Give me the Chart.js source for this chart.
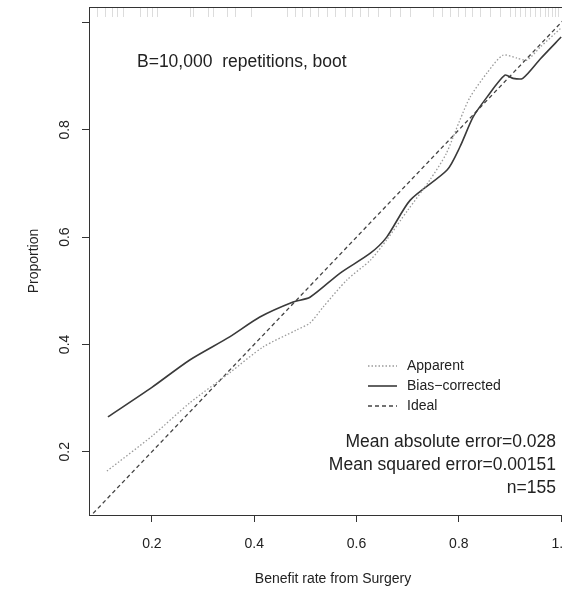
<!DOCTYPE html>
<html lang="en">
<head>
    <meta charset="UTF-8">
    <title>Calibration plot</title>
    <script src="https://cdn.jsdelivr.net/npm/chart.js"></script>
    <style>
        html, body {
            margin: 0;
            padding: 0;
            background: #fff;
            overflow: hidden;
        }
        #wrap {
            width: 600px;
            height: 593px;
        }
    </style>
</head>
<body>
    <div id="wrap"><canvas id="calib" width="600" height="593"></canvas></div>

    <script>
        // Curves
        var apparentX = [0.112, 0.2, 0.274, 0.352, 0.417, 0.483, 0.509, 0.535, 0.581, 0.627, 0.659, 0.70, 0.743, 0.775, 0.802, 0.822, 0.855, 0.886, 0.913, 0.933, 0.96, 1.0];
        var apparentY = [0.164, 0.229, 0.291, 0.347, 0.395, 0.427, 0.44, 0.47, 0.52, 0.557, 0.595, 0.65, 0.706, 0.755, 0.818, 0.861, 0.906, 0.939, 0.934, 0.930, 0.955, 0.99];

        var biasX = [0.114, 0.2, 0.274, 0.352, 0.411, 0.476, 0.509, 0.568, 0.627, 0.659, 0.705, 0.777, 0.802, 0.828, 0.855, 0.89, 0.906, 0.925, 0.96, 1.0];
        var biasY = [0.265, 0.32, 0.371, 0.414, 0.451, 0.479, 0.488, 0.533, 0.570, 0.600, 0.669, 0.725, 0.768, 0.824, 0.861, 0.902, 0.896, 0.896, 0.933, 0.973];

        var idealX = [0, 1.1];
        var idealY = [0, 1.1];

        // rug of predicted values along the top
        var rugX = [0.092, 0.108, 0.122, 0.132, 0.143, 0.177, 0.19, 0.2, 0.21, 0.274, 0.28, 0.31, 0.319, 0.347, 0.362, 0.394,
            0.464, 0.48, 0.493, 0.509, 0.524, 0.542, 0.558, 0.577, 0.591, 0.607, 0.622, 0.642, 0.665, 0.685, 0.704,
            0.75, 0.767, 0.783, 0.798, 0.812, 0.826, 0.841, 0.861, 0.88, 0.9, 0.91, 0.919, 0.929, 0.939, 0.949,
            0.958, 0.968, 0.974, 0.982, 0.988, 0.994];

        var xTicks = [0.2, 0.4, 0.6, 0.8, 1.0];
        var yTicks = [0.2, 0.4, 0.6, 0.8, 1.0];

        var legendLabels = ['Apparent', 'Bias\u2212corrected', 'Ideal'];
        var subtitle = 'B=10,000  repetitions, boot';
        var statLines = ['Mean absolute error=0.028', 'Mean squared error=0.00151', 'n=155'];

        var FONT = '"Liberation Sans", Arial, Helvetica, sans-serif';

        function toPoints(xs, ys) {
            return xs.map(function (x, i) { return { x: x, y: ys[i] }; });
        }

        // box, rug, rotated y labels, legend and text
        var extras = {
            id: 'extras',
            afterDatasetsDraw: function (chart) {
                var c = chart.ctx;
                var a = chart.chartArea;
                var xs = chart.scales.x;
                var ys = chart.scales.y;
                c.save();

                // rug
                c.strokeStyle = 'rgba(140,140,140,0.3)';
                c.lineWidth = 1;
                rugX.forEach(function (v) {
                    var px = Math.round(xs.getPixelForValue(v)) + 0.5;
                    c.beginPath();
                    c.moveTo(px, a.top + 1);
                    c.lineTo(px, a.top + 10);
                    c.stroke();
                });

                // frame
                c.strokeStyle = '#333';
                c.lineWidth = 1;
                c.setLineDash([]);
                c.strokeRect(Math.round(a.left) + 0.5, Math.round(a.top) + 0.5,
                    Math.round(a.right - a.left), Math.round(a.bottom - a.top));

                // y tick labels, parallel to the axis
                c.fillStyle = '#222';
                c.font = '14px ' + FONT;
                c.textAlign = 'center';
                c.textBaseline = 'middle';
                yTicks.forEach(function (v) {
                    if (v > 0.95) return;
                    var py = ys.getPixelForValue(v);
                    c.save();
                    c.translate(a.left - 24, py);
                    c.rotate(-Math.PI / 2);
                    c.fillText(v.toFixed(1), 0, 0);
                    c.restore();
                });

                // subtitle
                c.textAlign = 'left';
                c.font = '17.5px ' + FONT;
                c.fillText(subtitle, 137, 62);

                // legend
                c.font = '14px ' + FONT;
                chart.data.datasets.forEach(function (ds, i) {
                    var y = 366 + i * 20;
                    c.strokeStyle = ds.borderColor;
                    c.lineWidth = ds.borderWidth;
                    c.setLineDash(ds.borderDash || []);
                    c.beginPath();
                    c.moveTo(368, y);
                    c.lineTo(397, y);
                    c.stroke();
                    c.fillStyle = '#222';
                    c.fillText(legendLabels[i], 407, y);
                });
                c.setLineDash([]);

                // stats
                c.font = '17.5px ' + FONT;
                c.textAlign = 'right';
                statLines.forEach(function (t, i) {
                    c.fillText(t, 556, 442 + i * 23);
                });

                c.restore();
            }
        };

        var ctx = document.getElementById('calib').getContext('2d');
        var chart = new Chart(ctx, {
            type: 'scatter',
            data: {
                datasets: [{
                    label: legendLabels[0],
                    data: toPoints(apparentX, apparentY),
                    showLine: true,
                    borderColor: '#9a9a9a',
                    borderWidth: 1.3,
                    borderDash: [1.5, 2],
                    pointRadius: 0,
                    tension: 0.25
                }, {
                    label: legendLabels[1],
                    data: toPoints(biasX, biasY),
                    showLine: true,
                    borderColor: '#3a3a3a',
                    borderWidth: 1.6,
                    pointRadius: 0,
                    tension: 0.25
                }, {
                    label: legendLabels[2],
                    data: toPoints(idealX, idealY),
                    showLine: true,
                    borderColor: '#444',
                    borderWidth: 1.3,
                    borderDash: [4, 3],
                    pointRadius: 0
                }]
            },
            options: {
                responsive: false,
                animation: false,
                events: [],
                layout: { padding: { top: 7, right: 23, left: 0, bottom: 0 } },
                plugins: {
                    legend: { display: false },
                    tooltip: { enabled: false }
                },
                scales: {
                    x: {
                        type: 'linear',
                        min: 0.077,
                        max: 1.031,
                        afterBuildTicks: function (s) {
                            s.ticks = xTicks.map(function (v) { return { value: v }; });
                        },
                        afterFit: function (s) { s.height = 78; },
                        ticks: {
                            color: '#222',
                            font: { size: 14, family: FONT },
                            padding: 14,
                            maxRotation: 0,
                            callback: function (v) { return v.toFixed(1); }
                        },
                        grid: {
                            drawOnChartArea: false,
                            tickLength: 7,
                            color: '#333'
                        },
                        border: { display: false },
                        title: {
                            display: true,
                            text: 'Benefit rate from Surgery',
                            color: '#222',
                            font: { size: 14, family: FONT },
                            padding: { top: 0, bottom: 5 }
                        }
                    },
                    y: {
                        type: 'linear',
                        min: 0.082,
                        max: 1.029,
                        afterBuildTicks: function (s) {
                            s.ticks = yTicks.map(function (v) { return { value: v }; });
                        },
                        afterFit: function (s) { s.width = 89; },
                        ticks: { display: false },
                        grid: {
                            drawOnChartArea: false,
                            tickLength: 7,
                            color: '#333'
                        },
                        border: { display: false },
                        title: {
                            display: true,
                            text: 'Proportion',
                            color: '#222',
                            font: { size: 14, family: FONT },
                            padding: { top: 26, bottom: 0 }
                        }
                    }
                }
            },
            plugins: [extras]
        });
    </script>
</body>
</html>
